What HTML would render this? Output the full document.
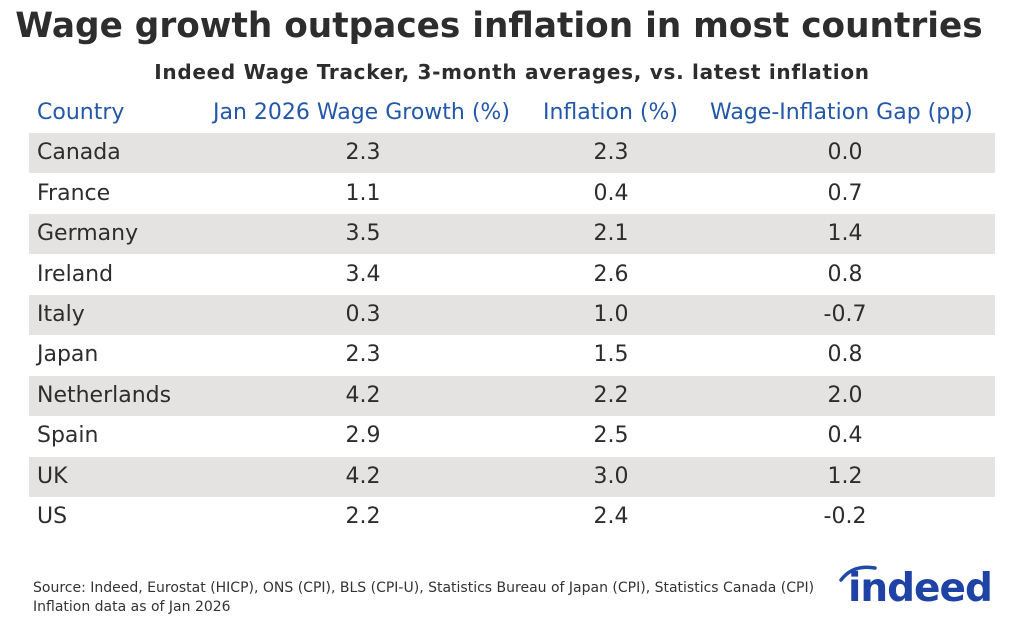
<!DOCTYPE html>
<html><head><meta charset="utf-8"><style>
body{margin:0;width:1024px;height:630px;background:#fff;font-family:"DejaVu Sans","Liberation Sans",sans-serif;position:relative;overflow:hidden;color:#2d2d2d}
.t{position:absolute;left:0;width:1024px;text-align:center;font-weight:bold;white-space:nowrap}
.row{position:absolute;left:29px;width:966px;height:40px;font-size:22px;line-height:40px}
.row span{position:absolute;top:0;white-space:nowrap}
.c1{left:8px}.c2{left:234px;width:200px;text-align:center}.c3{left:482px;width:200px;text-align:center}.c4{left:716px;width:200px;text-align:center}
.g{background:#e4e3e1}
.h{color:#2357a8}
.f{position:absolute;left:33px;font-size:14px;color:#333;white-space:nowrap}
</style></head><body>
<div class="t" style="top:6px;font-size:34.3px;color:#2d2d2d;left:-13px">Wage growth outpaces inflation in most countries</div>
<div class="t" style="top:60px;font-size:20px;letter-spacing:0.7px">Indeed Wage Tracker, 3-month averages, vs. latest inflation</div>
<div class="row h" style="top:93px"><span class="c1">Country</span><span style="left:184px">Jan 2026 Wage Growth (%)</span><span style="left:514px">Inflation (%)</span><span style="left:681px">Wage-Inflation Gap (pp)</span></div>
<div class="row g" style="top:133px"><span class="c1">Canada</span><span class="c2">2.3</span><span class="c3">2.3</span><span class="c4">0.0</span></div>
<div class="row" style="top:174px"><span class="c1">France</span><span class="c2">1.1</span><span class="c3">0.4</span><span class="c4">0.7</span></div>
<div class="row g" style="top:214px"><span class="c1">Germany</span><span class="c2">3.5</span><span class="c3">2.1</span><span class="c4">1.4</span></div>
<div class="row" style="top:255px"><span class="c1">Ireland</span><span class="c2">3.4</span><span class="c3">2.6</span><span class="c4">0.8</span></div>
<div class="row g" style="top:295px"><span class="c1">Italy</span><span class="c2">0.3</span><span class="c3">1.0</span><span class="c4">-0.7</span></div>
<div class="row" style="top:335px"><span class="c1">Japan</span><span class="c2">2.3</span><span class="c3">1.5</span><span class="c4">0.8</span></div>
<div class="row g" style="top:376px"><span class="c1">Netherlands</span><span class="c2">4.2</span><span class="c3">2.2</span><span class="c4">2.0</span></div>
<div class="row" style="top:416px"><span class="c1">Spain</span><span class="c2">2.9</span><span class="c3">2.5</span><span class="c4">0.4</span></div>
<div class="row g" style="top:457px"><span class="c1">UK</span><span class="c2">4.2</span><span class="c3">3.0</span><span class="c4">1.2</span></div>
<div class="row" style="top:497px"><span class="c1">US</span><span class="c2">2.2</span><span class="c3">2.4</span><span class="c4">-0.2</span></div>
<div class="f" style="top:580px">Source: Indeed, Eurostat (HICP), ONS (CPI), BLS (CPI-U), Statistics Bureau of Japan (CPI), Statistics Canada (CPI)</div>
<div class="f" style="top:599px">Inflation data as of Jan 2026</div>
<svg style="position:absolute;left:835px;top:562px" width="70" height="20"><path d="M6 18 Q18 2 40 6" stroke="#2049a8" stroke-width="3.5" fill="none" stroke-linecap="round"/></svg>
<div style="position:absolute;left:848px;top:566px;font-size:39px;font-weight:bold;color:#1f43a5;letter-spacing:-1px;font-family:'DejaVu Sans',sans-serif">indeed</div>
</body></html>
